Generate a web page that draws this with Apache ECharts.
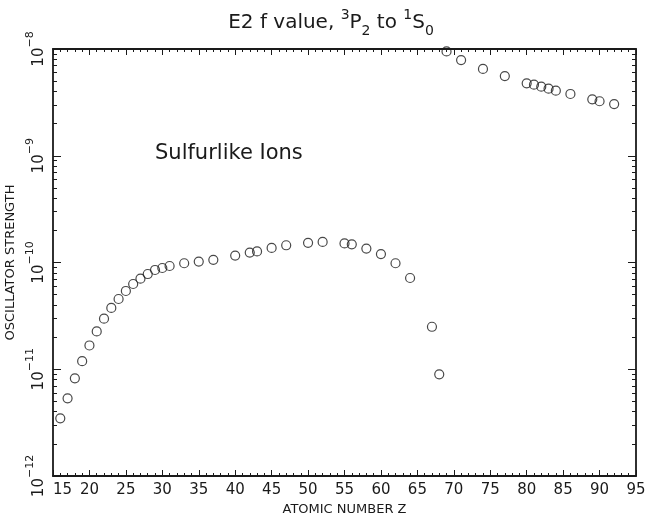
<!DOCTYPE html>
<html lang="en">
<head>
<meta charset="utf-8">
<title>E2 f value, 3P2 to 1S0</title>
<style>
  html, body { margin: 0; padding: 0; background: #fff; }
  #chart { width: 651px; height: 518px; }
</style>
</head>
<body>
<div id="chart"></div>
<script src="https://cdn.jsdelivr.net/npm/echarts@6/dist/echarts.min.js"></script>
<script>
// lower branch: Z and oscillator strength
var lowerZ = [16, 17, 18, 19, 20, 21, 22, 23, 24, 25, 26, 27, 28, 29, 30, 31,
              33, 35, 37, 40, 42, 43, 45, 47, 50, 52, 55, 56, 58, 60, 62, 64, 67, 68];
var lowerF = [3.47e-12, 5.34e-12, 8.22e-12, 1.19e-11, 1.67e-11, 2.26e-11, 2.98e-11, 3.75e-11,
              4.55e-11, 5.41e-11, 6.29e-11, 7.05e-11, 7.80e-11, 8.51e-11, 8.88e-11, 9.27e-11,
              9.84e-11, 1.02e-10, 1.06e-10, 1.16e-10, 1.24e-10, 1.27e-10, 1.37e-10, 1.45e-10,
              1.53e-10, 1.56e-10, 1.51e-10, 1.48e-10, 1.35e-10, 1.20e-10, 9.84e-11, 7.16e-11,
              2.50e-11, 8.97e-12];
// upper branch
var upperZ = [69, 71, 74, 77, 80, 81, 82, 83, 84, 86, 89, 90, 92];
var upperF = [9.5e-9, 7.88e-9, 6.50e-9, 5.58e-9, 4.77e-9, 4.63e-9, 4.44e-9, 4.25e-9,
              4.07e-9, 3.79e-9, 3.38e-9, 3.24e-9, 3.05e-9];
var decades = [-12, -11, -10, -9, -8];

var minorY = [];
for (var d = 0; d < decades.length - 1; d++) {
    for (var k = 2; k <= 9; k++) minorY.push(decades[d] + Math.log10(k));
}

function pts(zs, fs) {
    return zs.map(function (z, i) { return [z, Math.log10(fs[i])]; });
}

var FONT = 'DejaVu Sans';
var INK = '#1a1a1a';

var chart = echarts.init(document.getElementById('chart'));

function xAx(pos, showLabel) {
    return {
        type: 'value', position: pos, min: 15, max: 95, interval: 5,
        axisLine: { show: true, lineStyle: { color: INK, width: 1.8 } },
        axisTick: { show: true, inside: true, length: 6, lineStyle: { color: INK, width: 1 } },
        minorTick: { show: true, splitNumber: 5, length: 3, lineStyle: { color: INK, width: 1 } },
        splitLine: { show: false },
        axisLabel: {
            show: showLabel, color: INK, fontFamily: FONT, fontSize: 15, margin: 7,
            alignMinLabel: 'left'
        },
        name: showLabel ? 'ATOMIC NUMBER Z' : '',
        nameLocation: 'middle', nameGap: 22,
        nameTextStyle: { color: INK, fontFamily: FONT, fontSize: 13 }
    };
}

function yMajor(pos, showLabel) {
    return {
        type: 'value', position: pos, min: -12, max: -8, interval: 1,
        axisLine: { show: true, lineStyle: { color: INK, width: 1.8 } },
        axisTick: { show: true, inside: true, length: 8, lineStyle: { color: INK, width: 1 } },
        splitLine: { show: false },
        axisLabel: {
            show: showLabel, rotate: 90, margin: 6, color: INK, fontFamily: FONT,
            formatter: function (v) { return '{b|10}{s|\u2212' + (-v) + '}'; },
            rich: {
                b: { fontSize: 15, lineHeight: 22, verticalAlign: 'bottom', fontFamily: FONT, color: INK },
                s: { fontSize: 11, lineHeight: 11, verticalAlign: 'top', fontFamily: FONT, color: INK }
            }
        },
        name: showLabel ? 'OSCILLATOR STRENGTH' : '',
        nameLocation: 'middle', nameRotate: 90, nameGap: 25,
        nameTextStyle: { color: INK, fontFamily: FONT, fontSize: 13 }
    };
}

function yMinor(pos) {
    return {
        type: 'value', position: pos, min: -12, max: -8,
        axisLine: { show: false },
        axisTick: { show: true, inside: true, length: 4, customValues: minorY, lineStyle: { color: INK, width: 1 } },
        splitLine: { show: false },
        axisLabel: { show: false }
    };
}

var marker = {
    symbol: 'circle', symbolSize: 9,
    itemStyle: { color: 'rgba(255,255,255,0)', borderColor: INK, borderWidth: 1.2 }
};

chart.setOption({
    animation: false,
    backgroundColor: '#fff',
    title: {
        text: '{t|E2 f value, }{sup|3}{t|P}{sub|2}{t| to }{sup|1}{t|S}{sub|0}',
        left: 326, top: 3, textAlign: 'center',
        textStyle: {
            fontWeight: 'normal',
            rich: {
                t: { fontSize: 20, lineHeight: 30, fontWeight: 'normal', fontFamily: FONT, color: INK },
                sup: { fontSize: 14, lineHeight: 14, fontWeight: 'normal', verticalAlign: 'top', fontFamily: FONT, color: INK },
                sub: { fontSize: 14, lineHeight: 14, fontWeight: 'normal', verticalAlign: 'bottom', fontFamily: FONT, color: INK }
            }
        }
    },
    grid: { left: 53, right: 15, top: 49, bottom: 42, outerBoundsMode: 'none' },
    xAxis: [xAx('bottom', true), xAx('top', false)],
    yAxis: [yMajor('left', true), yMinor('left'), yMajor('right', false), yMinor('right')],
    graphic: [{
        type: 'text', left: 155, top: 143,
        style: { text: 'Sulfurlike Ions', fontSize: 21, fontFamily: FONT, fill: INK }
    }],
    series: [
        Object.assign({ type: 'scatter', name: 'lower', data: pts(lowerZ, lowerF) }, marker),
        Object.assign({ type: 'scatter', name: 'upper', data: pts(upperZ, upperF) }, marker)
    ]
});
</script>
</body>
</html>
